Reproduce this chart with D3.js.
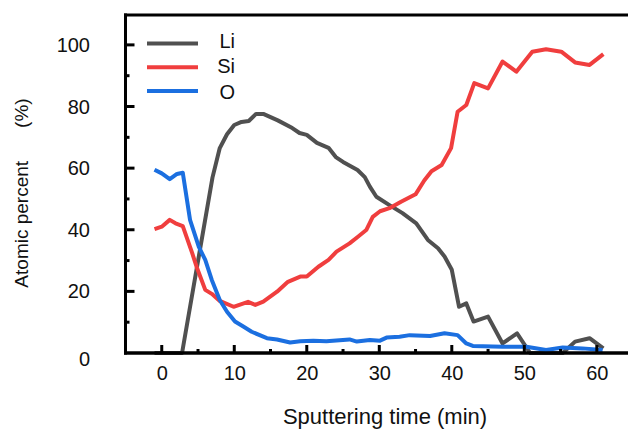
<!DOCTYPE html>
<html>
<head>
<meta charset="utf-8">
<script src="https://cdn.jsdelivr.net/npm/d3@7"></script>
<style>
  html, body { margin: 0; padding: 0; background: #fff; }
  svg { display: block; font-family: "Liberation Sans", Arial, sans-serif; }
</style>
</head>
<body>
<svg id="chart" width="628" height="432"></svg>
<script>
// ---- data ----
const seriesNames = ["Li", "Si", "O"];
const seriesColors = ["#505050", "#f03e3e", "#1b6fe0"];

const liTime = [-1, 2.8, 7, 8, 9, 10, 11, 12, 13, 14, 16, 18, 19, 20, 21.4, 23, 24, 25, 27, 28, 28.7, 29.6, 31.4, 33.2, 35.1, 36.7, 38.1, 39, 40, 41, 42, 43, 45, 47, 49, 50.8, 55.3, 57, 59, 60.9];
const liPct  = [0, 0, 57, 66.5, 71, 74, 75, 75.3, 77.6, 77.6, 75.5, 73, 71.4, 70.8, 68.2, 66.6, 63.6, 62, 59.4, 57.1, 54, 50.7, 48, 45.4, 42.1, 36.7, 34, 31.3, 27, 15, 16.1, 10.2, 11.8, 3.1, 6.4, 0, 0, 3.7, 4.8, 1.5];

const siTime = [-1, 0, 1.1, 1.9, 2.9, 4.2, 4.8, 6, 6.9, 8, 9.9, 11.9, 12.9, 14, 15.9, 17.4, 19.1, 20, 21.6, 23, 24.1, 25.9, 27.1, 28.2, 29.1, 30.1, 31.4, 33, 35, 36.2, 37.2, 38.6, 39.9, 40.8, 42, 43.1, 45, 47, 48.9, 51.1, 53, 55.1, 57, 59, 60.9];
const siPct  = [40.2, 41, 43.2, 42.1, 41.2, 32.4, 28, 20.5, 19.2, 16.9, 15, 16.6, 15.6, 16.7, 19.9, 23.1, 24.8, 24.8, 28, 30.2, 32.9, 35.6, 37.8, 39.9, 44.2, 46, 47, 49.1, 51.5, 56, 59, 61, 66.5, 78.3, 80.5, 87.6, 85.9, 94.6, 91.3, 97.8, 98.6, 97.8, 94.3, 93.5, 97];

const oTime = [-1, 0, 1.1, 2.1, 2.9, 3.9, 5.1, 6, 6.9, 8, 9, 10.1, 11.3, 12.4, 14.5, 15.9, 17.7, 19.1, 20.9, 22.7, 25.9, 26.9, 28.7, 30.1, 31, 32.8, 34.2, 37, 39, 40.8, 42, 42.9, 47, 50.3, 53, 55.3, 58, 60.8];
const oPct  = [59.5, 58.3, 56.4, 58.1, 58.5, 43.2, 34.5, 30.2, 23.7, 17.2, 13.4, 10.2, 8.5, 6.9, 4.8, 4.4, 3.4, 3.8, 4, 3.8, 4.4, 3.7, 4.2, 4, 5, 5.3, 5.8, 5.5, 6.4, 5.8, 3.1, 2.3, 2, 2, 1, 1.8, 1.5, 1];

const xTicks = [0, 10, 20, 30, 40, 50, 60];
const xMinorTicks = [5, 15, 25, 35, 45, 55];
const yTicks = [0, 20, 40, 60, 80, 100];
const yMinorTicks = [10, 30, 50, 70, 90];
const xTitle = "Sputtering time (min)";
const yTitleMain = "Atomic percent";
const yTitleUnit = "(%)";

// ---- layout ----
const svg = d3.select("#chart");
const x = d3.scaleLinear().domain([-5, 64.3]).range([125.5, 628]);
const y = d3.scaleLinear().domain([0, 109.7]).range([353, 15]);

const series = [
  { name: seriesNames[0], color: seriesColors[0], pts: liTime.map((t, i) => [t, liPct[i]]) },
  { name: seriesNames[1], color: seriesColors[1], pts: siTime.map((t, i) => [t, siPct[i]]) },
  { name: seriesNames[2], color: seriesColors[2], pts: oTime.map((t, i) => [t, oPct[i]]) }
];

const line = d3.line().x(d => x(d[0])).y(d => y(d[1]));

// draw series (Li first, then Si, then O on top)
svg.append("g").selectAll("path").data(series).join("path")
  .attr("d", d => line(d.pts))
  .attr("fill", "none")
  .attr("stroke", d => d.color)
  .attr("stroke-width", 4)
  .attr("stroke-linejoin", "round")
  .attr("stroke-linecap", "butt");

// frame: left, top, bottom
const [x0, x1] = x.range();
const frame = svg.append("g").attr("stroke", "#000").attr("fill", "none");
frame.append("line").attr("x1", x0).attr("x2", x0).attr("y1", y(109.7) - 1.5).attr("y2", y(0) + 1.5).attr("stroke-width", 3);
frame.append("line").attr("x1", x0 - 1.5).attr("x2", x1).attr("y1", y(109.7)).attr("y2", y(109.7)).attr("stroke-width", 3);
frame.append("line").attr("x1", x0 - 1.5).attr("x2", x1).attr("y1", y(0)).attr("y2", y(0)).attr("stroke-width", 3.5);

// ticks (inward)
const tk = svg.append("g").attr("stroke", "#000").attr("stroke-width", 3);
tk.selectAll(".xmaj").data(xTicks).join("line")
  .attr("x1", d => x(d)).attr("x2", d => x(d)).attr("y1", y(0)).attr("y2", y(0) - 8);
tk.selectAll(".xmin").data(xMinorTicks).join("line").attr("class", "xmin")
  .attr("x1", d => x(d)).attr("x2", d => x(d)).attr("y1", y(0)).attr("y2", y(0) - 4);
tk.selectAll(".ymaj").data(yTicks.filter(v => v > 0)).join("line").attr("class", "ymaj")
  .attr("x1", x0).attr("x2", x0 + 9).attr("y1", d => y(d)).attr("y2", d => y(d));
tk.selectAll(".ymin").data(yMinorTicks).join("line").attr("class", "ymin")
  .attr("x1", x0).attr("x2", x0 + 4).attr("y1", d => y(d)).attr("y2", d => y(d));

// tick labels
svg.append("g").selectAll("text").data(xTicks).join("text")
  .attr("x", d => x(d) + 0.5).attr("y", 380)
  .attr("text-anchor", "middle").attr("font-size", 20).attr("fill", "#111")
  .text(d => d);
svg.append("g").selectAll("text").data(yTicks).join("text")
  .attr("x", 90).attr("y", d => y(d) + (d === 0 ? 6 : 0))
  .attr("dy", "0.35em")
  .attr("text-anchor", "end").attr("font-size", 20).attr("fill", "#111")
  .text(d => d);

// axis titles
svg.append("text")
  .attr("x", 385).attr("y", 424)
  .attr("text-anchor", "middle").attr("font-size", 22).attr("fill", "#111")
  .text(xTitle);
const yt = svg.append("text")
  .attr("transform", "translate(28,193) rotate(-90)")
  .attr("text-anchor", "middle").attr("font-size", 19).attr("fill", "#111");
yt.append("tspan").text(yTitleMain);
yt.append("tspan").attr("dx", 33).text(yTitleUnit);

// legend
const lg = svg.append("g");
series.forEach((s, i) => {
  const ly = 43.5 + i * 23.7;
  lg.append("line").attr("x1", 147).attr("x2", 198).attr("y1", ly).attr("y2", ly)
    .attr("stroke", s.color).attr("stroke-width", 4);
  lg.append("text").attr("x", 235).attr("y", 48 + i * 25.3)
    .attr("text-anchor", "end").attr("font-size", 20).attr("fill", "#111")
    .text(s.name);
});
</script>
</body>
</html>
